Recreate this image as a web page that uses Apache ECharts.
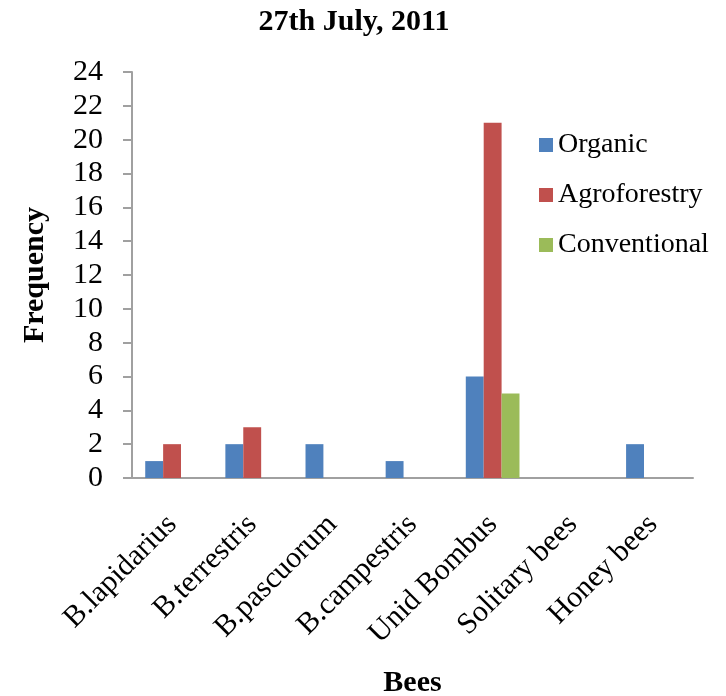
<!DOCTYPE html>
<html>
<head>
<meta charset="utf-8">
<script src="https://cdn.jsdelivr.net/npm/echarts@6/dist/echarts.min.js"></script>
<style>
html,body{margin:0;padding:0;background:#fff;}
#chart{width:726px;height:696px;}
</style>
</head>
<body>
<div id="chart"></div>
<script>
const categories = ['B.lapidarius','B.terrestris','B.pascuorum','B.campestris','Unid Bombus','Solitary bees','Honey bees'];
const seriesNames = ['Organic','Agroforestry','Conventional'];
const organic = [1,2,2,1,6,0,2];
const agroforestry = [2,3,0,0,21,0,0];
const conventional = [0,0,0,0,5,0,0];
const yTicks = {min:0, max:24, interval:2};
const colors = ['#4F81BD','#C0504D','#9BBB59'];
const FONT = '"Liberation Serif","Times New Roman",serif';

const chart = echarts.init(document.getElementById('chart'), null, {renderer:'canvas'});
const values = [organic, agroforestry, conventional];
chart.setOption({
  animation:false,
  backgroundColor:'#ffffff',
  title:{
    text:'27th July, 2011',
    left:349, top:2, textAlign:'center',
    textStyle:{fontFamily:FONT, fontWeight:'bold', fontSize:30, color:'#000'}
  },
  legend:{
    orient:'vertical',
    left:534, top:126,
    itemWidth:14, itemHeight:14, itemGap:22,
    icon:'rect',
    textStyle:{fontFamily:FONT, fontSize:28, color:'#000'},
    data:seriesNames
  },
  grid:{left:132, right:33, top:72, bottom:218, containLabel:false, outerBoundsMode:'none'},
  xAxis:{
    type:'category',
    data:categories,
    name:'Bees',
    nameLocation:'middle',
    nameGap:190,
    nameTextStyle:{fontFamily:FONT, fontWeight:'bold', fontSize:30, color:'#000'},
    axisLine:{lineStyle:{color:'#a0a0a0', width:2}},
    axisTick:{show:false},
    axisLabel:{
      rotate:45, interval:0, margin:42,
      fontFamily:FONT, fontSize:30, color:'#000'
    }
  },
  yAxis:{
    type:'value',
    min:yTicks.min, max:yTicks.max, interval:yTicks.interval,
    name:'Frequency',
    nameLocation:'middle',
    nameRotate:90,
    nameGap:82,
    nameTextStyle:{fontFamily:FONT, fontWeight:'bold', fontSize:30, color:'#000'},
    axisLine:{show:true, lineStyle:{color:'#a0a0a0', width:2}},
    axisTick:{show:true, inside:false, length:9, lineStyle:{color:'#a0a0a0', width:2}},
    splitLine:{show:false},
    axisLabel:{margin:29, fontFamily:FONT, fontSize:30, color:'#000'}
  },
  series: seriesNames.map((n,i)=>({
    name:n,
    type:'bar',
    data:values[i],
    barGap:'0%',
    barCategoryGap:'33%',
    itemStyle:{color:colors[i]}
  }))
});
</script>
</body>
</html>
